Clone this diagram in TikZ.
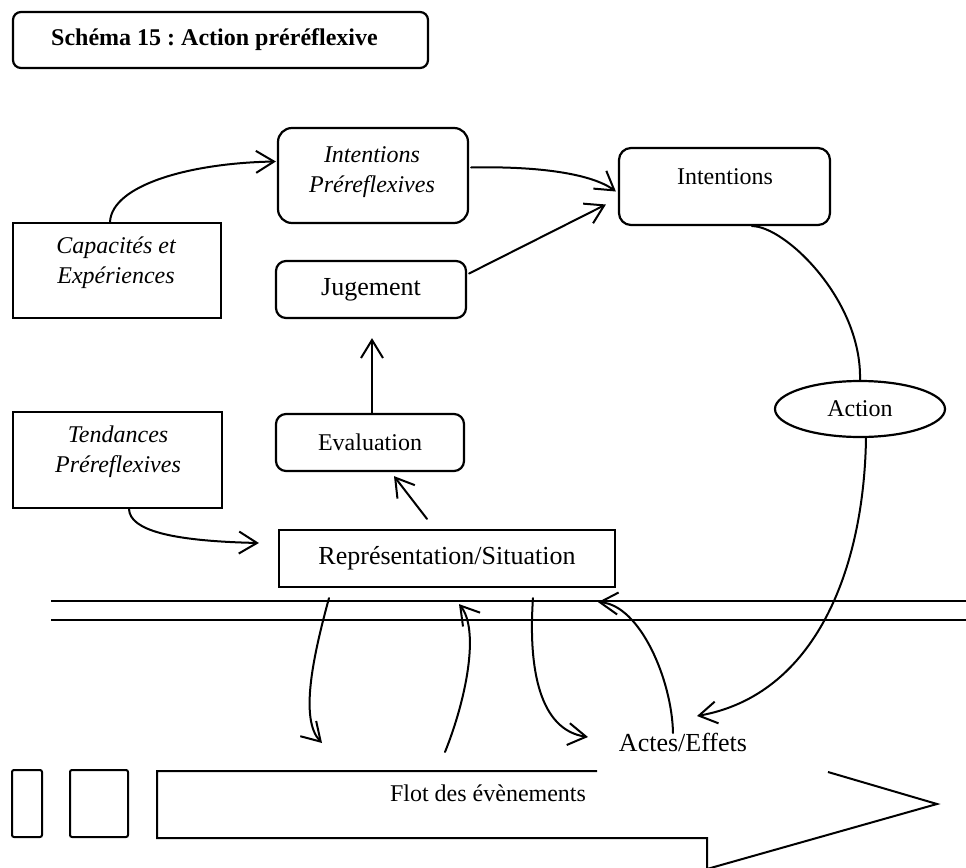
\documentclass[tikz,border=0pt]{standalone}
\usepackage{fontspec}
\setmainfont{Liberation Serif}
\usetikzlibrary{arrows.meta,calc,shapes.geometric}
\frenchspacing
\begin{document}
\begin{tikzpicture}[x=0.5pt,y=-0.5pt,
  every node/.style={font=\fontsize{12}{15}\selectfont},
  boxed/.style={draw, line width=1.1pt, inner sep=0pt},
  txt/.style={align=center, inner sep=0pt},
  itxt/.style={txt, font=\itshape\fontsize{12}{15}\selectfont},
  bigtxt/.style={font=\fontsize{13}{15}\selectfont},
  conn/.style={line width=1pt, line cap=round,
    -{Straight Barb[length=9pt,width=11pt,line width=1pt]}},
  plainlink/.style={line width=1pt, line cap=round},
  rail/.style={line width=1pt},
]
\useasboundingbox (0,0) rectangle (966,868);

% title
\node[boxed, rounded corners=4pt, minimum width=207.5pt, minimum height=28pt] (title) at (220.5,40) {};
\node[txt, font=\bfseries\fontsize{12}{14}\selectfont] (titletext) at (214.5,40) {Schéma 15 : Action préréflexive};

% boxes
\node[boxed, rounded corners=7pt, minimum width=95pt, minimum height=47.5pt] (ip) at (373,175.5) {};
\node[itxt] (iptext) at (372,172) {Intentions\\Préreflexives};

\node[boxed, rounded corners=6pt, minimum width=105.5pt, minimum height=38.5pt] (int) at (724.5,186.5) {};
\node[txt] (inttext) at (725,177) {Intentions};

\node[boxed, minimum width=104pt, minimum height=47.5pt] (cap) at (117,270.5) {};
\node[itxt] (captext) at (116,262.5) {Capacités et\\Expériences};

\node[boxed, rounded corners=5pt, minimum width=95pt, minimum height=28.5pt, bigtxt] (jug) at (371,289.5) {Jugement};

\node[boxed, minimum width=104.5pt, minimum height=48pt] (tend) at (117.5,460) {};
\node[itxt] (tendtext) at (118,452) {Tendances\\Préreflexives};

\node[boxed, rounded corners=5pt, minimum width=94pt, minimum height=28.5pt] (eval) at (370,442.5) {Evaluation};

\node[boxed, minimum width=168pt, minimum height=28.5pt, bigtxt] (rep) at (447,558.5) {Représentation/Situation};

\node[boxed, ellipse, minimum width=85pt, minimum height=28pt] (action) at (860,409) {Action};

\node[txt, bigtxt] (actes) at (683,742) {Actes/Effets};

% double line
\coordinate (la) at (51,601);
\coordinate (lb) at (966,601);
\coordinate (lc) at (51,620);
\coordinate (ld) at (966,620);
\draw[rail] (la) -- (lb);
\draw[rail] (lc) -- (ld);

% flow of events
\draw[line width=1pt, rounded corners=1pt] (12,770) rectangle (42,837);
\draw[line width=1pt, rounded corners=1pt] (70,770) rectangle (128,837);
\draw[line width=1pt] (597,771) -- (157,771) -- (157,838) -- (707,838) -- (707,869) -- (937,804) -- (828,772);
\node[txt] (flot) at (488,793) {Flot des évènements};

\coordinate (flotin) at (322,743);
\coordinate (flotout) at (445,752);

% connectors
\draw[conn] ($(cap.north)+(-7,0)$) .. controls (112,185) and (190,163) .. ($(ip.west)+(-1,-14)$);
\draw[conn] ($(ip.east)+(2,-8)$) .. controls (540,166) and (592,174) .. ($(int.west)+(-2,5)$);
\draw[conn] ($(jug.east)+(2,-16)$) -- ($(int.west)+(-12,18)$);
\draw[conn] ($(eval.north)+(2,0)$) -- ($(jug.south)+(1,19)$);
\draw[conn] ($(tend.south)+(11.5,0)$) .. controls (130,530) and (170,541) .. ($(rep.west)+(-19,-15.5)$);
\draw[conn] ($(rep.north)+(-20,-10)$) -- ($(eval.south)+(24,4)$);
\draw[conn] ($(rep.south)+(-118,10)$) .. controls (312,660) and (300,720) .. (flotin);
\draw[conn] (flotout) .. controls (466,700) and (480,630) .. ($(rep.south)+(12,16)$);
\draw[conn] ($(rep.south)+(86,10)$) .. controls (528,670) and (540,730) .. ($(actes.center)+(-95,-5)$);
\draw[conn] ($(actes.center)+(-10,-9)$) .. controls (672,680) and (640,605) .. ($(rep.south)+(151,14)$);
\draw[plainlink] ($(int.south)+(27.5,0)$) .. controls (785,226) and (862,300) .. (action.north);
\draw[conn] ($(action.south)+(6,0)$) .. controls (864,570) and (815,695) .. ($(actes.center)+(14,-26)$);
\end{tikzpicture}
\end{document}
